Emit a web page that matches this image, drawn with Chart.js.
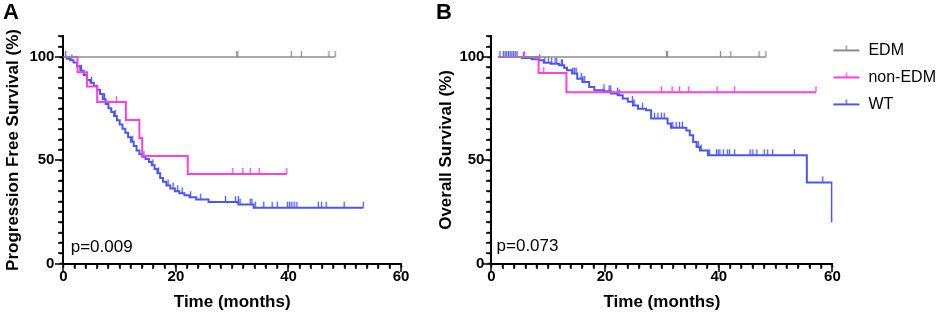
<!DOCTYPE html>
<html>
<head>
<meta charset="utf-8">
<script src="https://cdn.jsdelivr.net/npm/chart.js@4.4.1/dist/chart.umd.min.js"></script>
<style>
html, body { margin: 0; padding: 0; background: #fff; overflow: hidden; width: 941px; height: 316px; }
canvas { position: absolute; top: 0; }
#graficoA, #graficoATicks { left: 0; }
#graficoB, #graficoBTicks { left: 430px; }
#graficoATicks, #graficoBTicks { pointer-events: none; z-index: 2; }
</style>
</head>
<body>
<canvas id="graficoA" width="430" height="316"></canvas>
<canvas id="graficoATicks" width="430" height="316"></canvas>
<canvas id="graficoB" width="527" height="316"></canvas>
<canvas id="graficoBTicks" width="527" height="316"></canvas>
<script>
// groups and colours
const groups = ['EDM', 'non-EDM', 'WT'];
const colors = ['#8c8c8c', '#ff3fe0', '#4b57f0'];

// axis range and tick labels
const xMax = 60, xStep = 2;
const yMax = 110, yStep = 5;
const xLabels = [0, 20, 40, 60];
const yLabels = [0, 50, 100];

// A: progression free survival (time in months, survival in %)
const edmPfsTime = [0, 48.3];
const edmPfsSurv = [100, 100];
const edmPfsCens = [30.8, 31.0, 40.5, 42.3, 47.2, 48.3];

const nonPfsTime = [0, 2.5, 4.2, 6.0, 11.1, 13.5, 14.0, 22.1, 39.7];
const nonPfsSurv = [100, 92.7, 85.8, 78.2, 69.5, 60.8, 52.1, 43.4, 43.4];
const nonPfsCens = [9.4, 30.1, 31.9, 33.2, 34.8, 39.7];

const wtPfsTime = [0, 0.6, 1.2, 1.8, 2.4, 3.0, 3.6, 4.2, 4.8, 5.4, 6.0, 6.5, 7.0, 7.5, 8.0, 8.5, 9.0, 9.5, 10.0, 10.5, 11.0, 11.5, 12.0, 12.5, 13.0, 13.5, 14.0, 14.6, 15.2, 15.7, 16.2, 16.7, 17.2, 17.7, 18.3, 19.0, 19.8, 20.6, 21.5, 22.4, 23.6, 25.8, 31.1, 33.8, 53.3];
const wtPfsSurv = [100, 99.2, 98.4, 97.4, 95.6, 93.4, 91.3, 88.9, 87.6, 86.0, 84.2, 82.1, 79.6, 77.3, 75.2, 73.4, 71.5, 69.4, 67.4, 65.3, 63.3, 61.2, 59.0, 56.9, 54.8, 53.0, 51.7, 50.6, 49.2, 47.6, 45.8, 43.7, 41.4, 39.6, 37.8, 36.3, 35.0, 34.0, 33.1, 32.1, 31.0, 29.8, 28.6, 27.1, 27.1];
const wtPfsCens = [0.4, 1.5, 3.2, 5.0, 7.3, 9.2, 12.3, 14.3, 15.9, 16.9, 18.6, 19.5, 20.3, 21.1, 22.6, 24.4, 28.8, 30.6, 31.1, 31.4, 33.2, 33.5, 34.1, 35.6, 37.1, 38.0, 39.8, 40.2, 40.6, 41.0, 41.5, 45.3, 45.9, 46.7, 49.9, 53.3];

// B: overall survival
const edmOsTime = [1.2, 48.3];
const edmOsSurv = [100, 100];
const edmOsCens = [30.8, 31.0, 40.3, 42.1, 47.1, 48.3];

const nonOsTime = [1.2, 8.3, 13.2, 57.1];
const nonOsSurv = [100, 92.3, 82.9, 82.9];
const nonOsCens = [5.8, 9.2, 29.9, 31.8, 33.1, 34.7, 39.7, 42.8, 57.1];

const wtOsTime = [1.2, 5.4, 7.1, 8.3, 9.2, 10.4, 11.9, 12.8, 13.3, 14.2, 15.1, 16.0, 17.2, 18.1, 19.8, 21.0, 22.2, 23.1, 24.0, 24.9, 25.8, 27.2, 28.1, 31.0, 31.6, 34.3, 34.9, 35.5, 36.1, 36.7, 38.1, 55.5, 59.9];
const wtOsSurv = [100, 99.5, 98.9, 98.4, 97.3, 96.8, 96.0, 94.8, 93.6, 92.0, 89.5, 87.9, 85.5, 83.9, 83.4, 82.3, 81.5, 79.9, 78.3, 76.6, 75.0, 74.2, 70.2, 67.8, 65.8, 64.5, 62.1, 58.9, 56.5, 54.8, 52.4, 39.3, 20.0];
const wtOsCens = [1.5, 2.1, 2.4, 2.7, 3.0, 3.3, 3.6, 3.9, 4.2, 4.5, 5.6, 8.5, 9.4, 10.0, 10.6, 11.2, 11.5, 12.3, 12.5, 14.3, 14.6, 14.9, 15.8, 16.1, 16.4, 19.8, 20.7, 21.0, 22.2, 22.5, 24.8, 25.1, 26.6, 28.7, 29.3, 29.9, 30.4, 31.9, 32.5, 33.1, 33.6, 36.4, 36.9, 38.4, 39.6, 39.9, 40.2, 40.8, 41.5, 41.9, 42.8, 45.5, 46.0, 46.7, 48.0, 48.6, 49.5, 53.3, 58.3];

const FONT = "'Liberation Sans', Arial, Helvetica, sans-serif";
Chart.defaults.font.family = FONT;
Chart.defaults.color = '#000';

function stepPoints(times, surv) {
    return times.map((t, i) => ({ x: t, y: surv[i] }));
}

// censor ticks sit on the curve level just before the time
function censorPoints(cens, times, surv) {
    return cens.map(c => {
        let s = surv[0];
        for (let i = 0; i < times.length; i++) {
            if (times[i] < c) s = surv[i];
        }
        return { x: c, y: s };
    });
}

function tickMark(color) {
    const c = document.createElement('canvas');
    c.width = 3; c.height = 14;
    const g = c.getContext('2d');
    g.strokeStyle = color; g.lineWidth = 1.3;
    g.beginPath(); g.moveTo(1.5, 1); g.lineTo(1.5, 7); g.stroke();
    return c;
}

function legendIcon(color) {
    const c = document.createElement('canvas');
    c.width = 28; c.height = 14;
    const g = c.getContext('2d');
    g.strokeStyle = color; g.lineWidth = 2;
    g.beginPath(); g.moveTo(1, 7); g.lineTo(27, 7); g.stroke();
    g.lineWidth = 1.3;
    g.beginPath(); g.moveTo(14, 2); g.lineTo(14, 7); g.stroke();
    return c;
}

// minor ticks every step, longer ones at the labelled values
function drawAxisTicks(chart, ctx) {
    const x = chart.scales.x, y = chart.scales.y;
    const xAxis = Math.round(chart.chartArea.bottom);
    const yAxis = Math.round(chart.chartArea.left);
    ctx.fillStyle = '#000';
    for (let v = 0; v <= xMax; v += xStep) {
        const px = x.getPixelForValue(v);
        const len = xLabels.includes(v) ? 8 : 5;
        ctx.fillRect(Math.round(px) - 0.75, xAxis, 1.5, len);
    }
    for (let v = 0; v <= yMax; v += yStep) {
        const py = y.getPixelForValue(v);
        const len = yLabels.includes(v) ? 8 : 5;
        ctx.fillRect(yAxis - len, Math.round(py) - 0.75, len, 1.5);
    }
}

function paintOverlay(chart) {
    const overlay = document.getElementById(chart.canvas.id + 'Ticks');
    if (!overlay) return;
    const g = overlay.getContext('2d');
    g.clearRect(0, 0, overlay.width, overlay.height);
    drawAxisTicks(chart, g);
}

const axisTicks = {
    id: 'axisTicks',
    afterRender(chart) { paintOverlay(chart); }
};

const pLabel = {
    id: 'pLabel',
    afterDatasetsDraw(chart, args, opts) {
        const { ctx, scales: { x, y } } = chart;
        ctx.save();
        ctx.font = '17px ' + FONT;
        ctx.fillStyle = '#000';
        ctx.textBaseline = 'alphabetic';
        ctx.fillText(opts.text, x.getPixelForValue(opts.x), y.getPixelForValue(opts.y));
        ctx.restore();
    }
};

// pull the legend so its lines start where the x axis ends
const legendFit = {
    id: 'legendFit',
    afterLayout(chart, args, opts) {
        const lg = chart.legend;
        if (!lg || !lg.options.display) return;
        const dx = lg.left + lg.options.labels.padding - chart.chartArea.right;
        lg.left -= dx; lg.right -= dx;
        lg.top -= opts.lift; lg.bottom -= opts.lift;
    }
};

function buildChart(id, panel, yTitle, series, pText, pPos, pad, yTitlePad, yTickPad, showLegend) {
    const datasets = [];
    series.forEach((s, i) => {
        datasets.push({
            label: groups[i],
            data: stepPoints(s.time, s.surv),
            borderColor: colors[i],
            borderWidth: i === 0 ? 1.6 : 2,
            stepped: 'before',
            pointRadius: 0,
            fill: false,
            order: (i + 1) * 2
        });
    });
    series.forEach((s, i) => {
        datasets.push({
            label: groups[i] + ' censored',
            data: censorPoints(s.cens, s.time, s.surv),
            showLine: false,
            pointStyle: tickMark(colors[i]),
            pointRadius: 3,
            order: (i + 1) * 2 - 1
        });
    });
    const icons = colors.map(legendIcon);

    return new Chart(document.getElementById(id).getContext('2d'), {
        type: 'line',
        data: { datasets: datasets },
        options: {
            responsive: false,
            animation: false,
            events: [],
            layout: { padding: pad },
            plugins: {
                title: {
                    display: true,
                    text: panel,
                    align: 'start',
                    color: '#000',
                    font: { size: 22, weight: 'bold' },
                    padding: { top: 0, bottom: 10 }
                },
                legend: {
                    display: showLegend,
                    position: 'right',
                    align: 'start',
                    fullSize: false,
                    labels: {
                        usePointStyle: true,
                        pointStyleWidth: 28,
                        padding: 11,
                        color: '#111',
                        font: { size: 16 },
                        generateLabels: () => groups.map((g, i) => ({
                            text: g,
                            pointStyle: icons[i],
                            fillStyle: colors[i],
                            strokeStyle: colors[i],
                            lineWidth: 0,
                            hidden: false,
                            datasetIndex: i
                        }))
                    }
                },
                tooltip: { enabled: false },
                pLabel: { text: pText, x: pPos[0], y: pPos[1] },
                legendFit: { lift: 5 }
            },
            scales: {
                x: {
                    type: 'linear',
                    min: 0,
                    max: xMax,
                    border: { display: true, color: '#000', width: 2 },
                    grid: { drawOnChartArea: false, drawTicks: true, tickLength: 4, tickWidth: 1.5, tickColor: '#000' },
                    ticks: {
                        stepSize: xStep,
                        autoSkip: false,
                        maxRotation: 0,
                        padding: 0,
                        color: '#000',
                        font: { size: 15, weight: 'bold' },
                        callback: v => xLabels.includes(v) ? String(v) : ''
                    },
                    title: {
                        display: true,
                        text: 'Time (months)',
                        color: '#000',
                        font: { size: 17, weight: 'bold' },
                        padding: { top: 7, bottom: 3 }
                    }
                },
                y: {
                    min: 0,
                    max: yMax,
                    border: { display: true, color: '#000', width: 2 },
                    grid: { drawOnChartArea: false, drawTicks: true, tickLength: 4, tickWidth: 1.5, tickColor: '#000' },
                    ticks: {
                        stepSize: yStep,
                        autoSkip: false,
                        padding: yTickPad,
                        color: '#000',
                        font: { size: 15, weight: 'bold' },
                        callback: v => yLabels.includes(v) ? String(v) : ''
                    },
                    title: {
                        display: true,
                        text: yTitle,
                        color: '#000',
                        font: { size: 17, weight: 'bold' },
                        padding: yTitlePad
                    }
                }
            }
        },
        plugins: [axisTicks, pLabel, legendFit]
    });
}

const chartA = buildChart('graficoA', 'A', 'Progression Free Survival (%)', [
    { time: edmPfsTime, surv: edmPfsSurv, cens: edmPfsCens },
    { time: nonPfsTime, surv: nonPfsSurv, cens: nonPfsCens },
    { time: wtPfsTime, surv: wtPfsSurv, cens: wtPfsCens }
], 'p=0.009', [1.3, 5.5], { left: 3, right: 29, top: 0, bottom: 0 }, { top: 0, bottom: 1 }, 5, false);

const chartB = buildChart('graficoB', 'B', 'Overall Survival (%)', [
    { time: edmOsTime, surv: edmOsSurv, cens: edmOsCens },
    { time: nonOsTime, surv: nonOsSurv, cens: nonOsCens },
    { time: wtOsTime, surv: wtOsSurv, cens: wtOsCens }
], 'p=0.073', [0.9, 6.3], { left: 6, right: 0, top: 0, bottom: 0 }, { top: 0, bottom: 0 }, 3, true);

// paint the ticks again once the charts are settled
paintOverlay(chartA);
paintOverlay(chartB);
</script>
</body>
</html>
